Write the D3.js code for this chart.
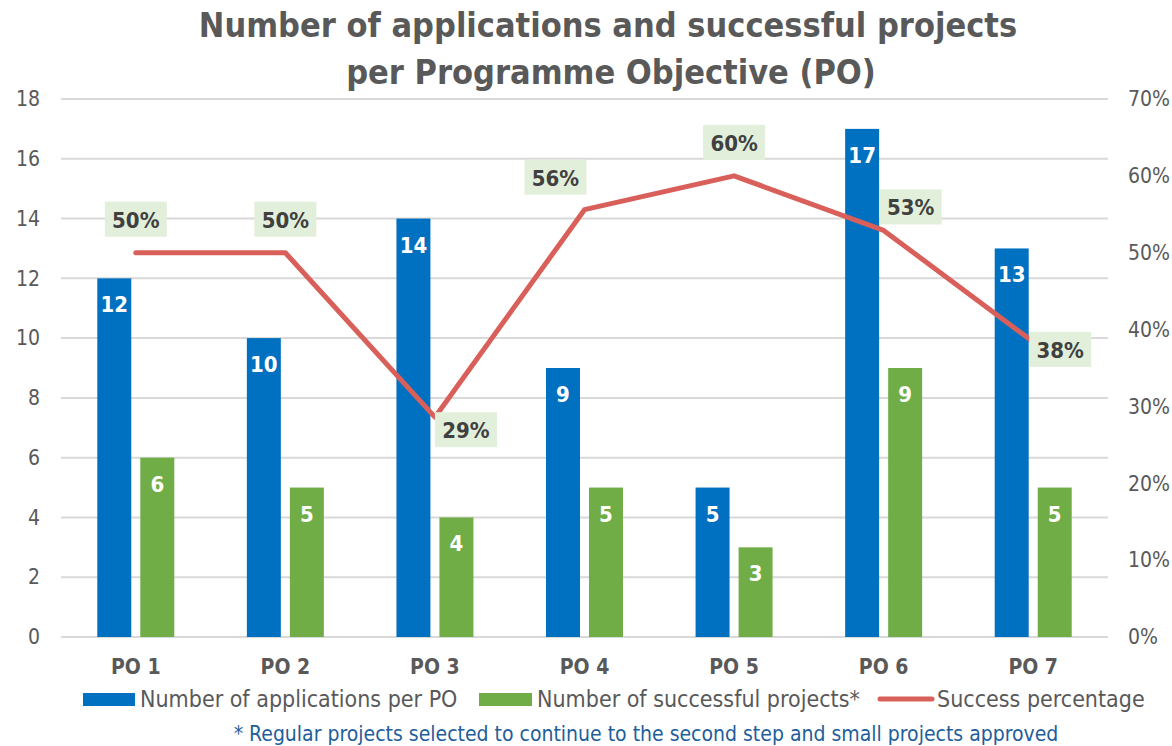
<!DOCTYPE html>
<html>
<head>
<meta charset="utf-8">
<script src="https://cdn.jsdelivr.net/npm/d3@7"></script>
<style>
  body { margin: 0; background: #fff; }
  svg text { font-family: "DejaVu Sans Condensed", "DejaVu Sans", sans-serif; }
</style>
</head>
<body>
<div class="chart"></div>
<script>
    /*Data*/
    const categories = ["PO 1", "PO 2", "PO 3", "PO 4", "PO 5", "PO 6", "PO 7"];
    const applications = [12, 10, 14, 9, 5, 17, 13];
    const successful = [6, 5, 4, 5, 3, 9, 5];
    const successPct = [50, 50, 28.6, 55.6, 60, 52.9, 38.4];
    const leftTicks = [0, 2, 4, 6, 8, 10, 12, 14, 16, 18];
    const rightTicks = [0, 10, 20, 30, 40, 50, 60, 70];

    // where each % label sits relative to its point (Excel placed them by hand)
    const pctLabelOffset = [[0, -33], [0, -33], [31, 13], [-29, -32], [0, -33], [27, -23], [27, 8]];

    const W = 1172, H = 746;
    const plot = {left: 61, right: 1108, top: 99, bottom: 637};

    const svg = d3.select(".chart").append("svg")
    .attr("width", W)
    .attr("height", H);

    /*Scales*/
    const xScale = d3.scaleBand().domain(categories).range([plot.left, plot.right]);
    const bw = xScale.bandwidth();
    const xSeries = d3.scaleBand().domain(["apps", "succ"])
    .range([bw / 2 - 38.5, bw / 2 + 38.5])
    .paddingInner(0.21);

    const yScale = d3.scaleLinear().domain([0, 18]).range([plot.bottom, plot.top]);
    const yPct = d3.scaleLinear().domain([0, 70]).range([plot.bottom, plot.top]);

    /*Gridlines*/
    svg.append("g")
    .selectAll("line")
    .data(leftTicks)
    .enter()
    .append("line")
    .attr("x1", plot.left)
    .attr("x2", plot.right)
    .attr("y1", d => yScale(d))
    .attr("y2", d => yScale(d))
    .attr("stroke", "#d9d9d9")
    .attr("stroke-width", 2);

    /*Axes*/
    const yAxis = d3.axisLeft(yScale).tickValues(leftTicks).tickSize(0).tickPadding(0);
    svg.append("g")
    .attr("class", "axis-y-axis")
    .attr("transform", "translate(40,0)")
    .call(yAxis)
    .call(g => g.select(".domain").remove());

    const yAxisRight = d3.axisRight(yPct).tickValues(rightTicks).tickSize(0).tickPadding(0)
    .tickFormat(d => d + "%");
    svg.append("g")
    .attr("class", "axis-y-right")
    .attr("transform", "translate(1128,0)")
    .call(yAxisRight)
    .call(g => g.select(".domain").remove());

    svg.selectAll(".axis-y-axis text, .axis-y-right text")
    .attr("font-size", 21)
    .attr("fill", "#595959");

    const xAxis = d3.axisBottom(xScale).tickSize(0).tickPadding(0);
    svg.append("g")
    .attr("class", "axis-x-axis")
    .attr("transform", `translate(0, ${plot.bottom})`)
    .call(xAxis)
    .call(g => g.select(".domain").remove())
    .selectAll("text")
    .attr("dy", 37)
    .attr("font-size", 21)
    .attr("font-weight", "bold")
    .attr("fill", "#595959");

    /*Bars*/
    const groups = svg.append("g")
    .selectAll("g")
    .data(categories)
    .enter()
    .append("g")
    .attr("transform", d => `translate(${xScale(d)},0)`);

    const seriesColor = {apps: "#0070c0", succ: "#70ad47"};

    groups.each(function(c, i) {
        const g = d3.select(this);
        const vals = [{key: "apps", v: applications[i]}, {key: "succ", v: successful[i]}];
        g.selectAll("rect")
        .data(vals)
        .enter()
        .append("rect")
        .attr("x", d => xSeries(d.key))
        .attr("y", d => yScale(d.v))
        .attr("width", xSeries.bandwidth())
        .attr("height", d => yScale(0) - yScale(d.v))
        .attr("fill", d => seriesColor[d.key]);

        g.selectAll("text")
        .data(vals)
        .enter()
        .append("text")
        .attr("x", d => xSeries(d.key) + xSeries.bandwidth() / 2)
        .attr("y", d => yScale(d.v) + 34)
        .attr("text-anchor", "middle")
        .attr("font-size", 22)
        .attr("font-weight", "bold")
        .attr("fill", "#fff")
        .text(d => d.v);
    });

    /*Line*/
    const line = d3.line()
    .x((d, i) => xScale(categories[i]) + bw / 2)
    .y(d => yPct(d));

    svg.append("path")
    .datum(successPct)
    .attr("d", line)
    .attr("fill", "none")
    .attr("stroke", "#d9605a")
    .attr("stroke-width", 5)
    .attr("stroke-linecap", "round")
    .attr("stroke-linejoin", "round");

    const pctLabels = svg.append("g")
    .selectAll("g")
    .data(successPct)
    .enter()
    .append("g")
    .attr("transform", (d, i) => {
        const px = xScale(categories[i]) + bw / 2 + pctLabelOffset[i][0];
        const py = yPct(d) + pctLabelOffset[i][1];
        return `translate(${px},${py})`;
    });

    pctLabels.append("rect")
    .attr("x", -31)
    .attr("y", -18)
    .attr("width", 62)
    .attr("height", 35)
    .attr("fill", "#e2efda");

    pctLabels.append("text")
    .attr("text-anchor", "middle")
    .attr("y", 8)
    .attr("font-size", 22)
    .attr("font-weight", "bold")
    .attr("fill", "#404040")
    .text(d => Math.round(d) + "%");

    /*Title*/
    const title = svg.append("text")
    .attr("text-anchor", "middle")
    .attr("font-size", 34)
    .attr("font-weight", "bold")
    .attr("fill", "#595959");
    title.append("tspan").attr("x", 608).attr("y", 37).text("Number of applications and successful projects");
    title.append("tspan").attr("x", 611).attr("y", 84).text("per Programme Objective (PO)");

    /*Legend*/
    const legend = svg.append("g").attr("transform", "translate(0,699)");
    const legendItems = [
        {name: "Number of applications per PO", type: "bar", color: "#0070c0", x: 83, w: 52},
        {name: "Number of successful projects*", type: "bar", color: "#70ad47", x: 479, w: 53},
        {name: "Success percentage", type: "line", color: "#d9605a", x: 880, w: 52}
    ];
    legendItems.forEach(it => {
        if (it.type === "bar") {
            legend.append("rect")
            .attr("x", it.x).attr("y", -6).attr("width", it.w).attr("height", 13)
            .attr("fill", it.color);
        } else {
            legend.append("line")
            .attr("x1", it.x).attr("x2", it.x + it.w).attr("y1", 0).attr("y2", 0)
            .attr("stroke", it.color).attr("stroke-width", 5).attr("stroke-linecap", "round");
        }
        legend.append("text")
        .attr("x", it.x + it.w + 5)
        .attr("y", 8)
        .attr("font-size", 23)
        .attr("fill", "#595959")
        .text(it.name);
    });

    /*Footnote*/
    svg.append("text")
    .attr("x", 646)
    .attr("y", 741)
    .attr("text-anchor", "middle")
    .attr("font-size", 21)
    .attr("fill", "#1f5e9a")
    .text("* Regular projects selected to continue to the second step and small projects approved");
</script>
</body>
</html>
